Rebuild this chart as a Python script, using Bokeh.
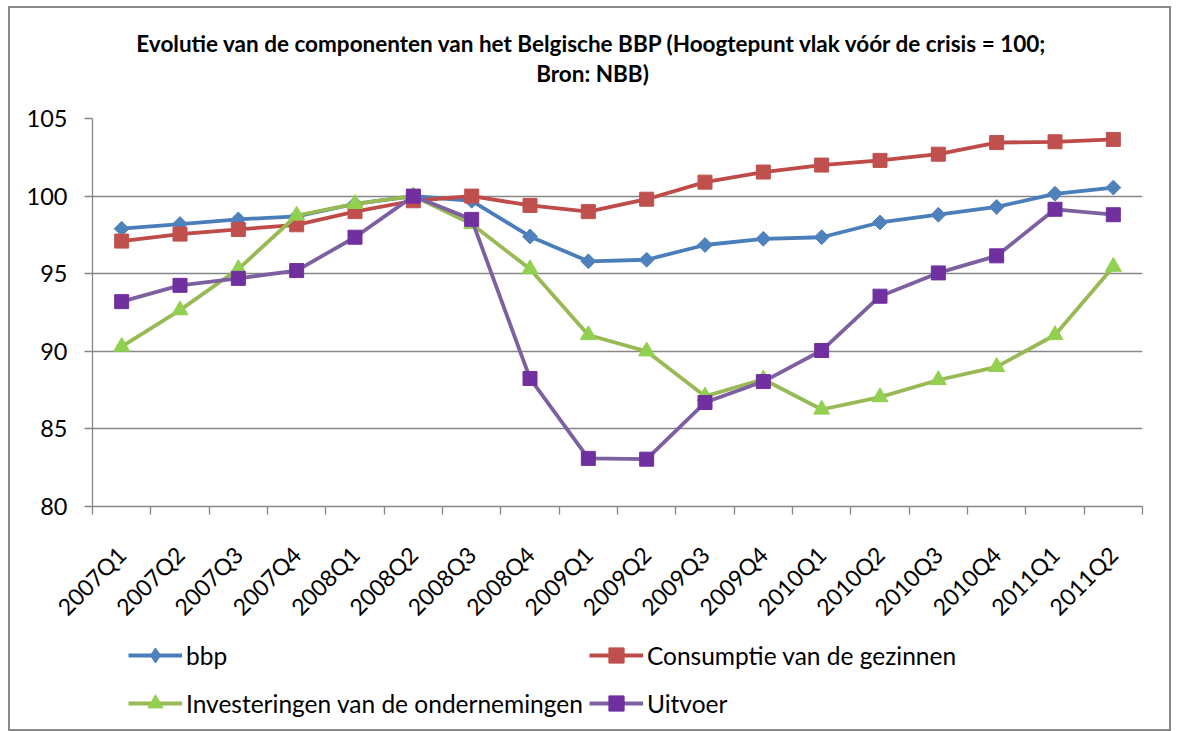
import math
from bokeh.plotting import figure
from bokeh.layouts import column
from bokeh.models import Range1d, FixedTicker, Legend, LegendItem, Label
from bokeh.embed import file_html
from bokeh.resources import INLINE

quarters = ["2007Q1", "2007Q2", "2007Q3", "2007Q4", "2008Q1", "2008Q2", "2008Q3", "2008Q4",
            "2009Q1", "2009Q2", "2009Q3", "2009Q4", "2010Q1", "2010Q2", "2010Q3", "2010Q4",
            "2011Q1", "2011Q2"]
bbp = [97.9, 98.2, 98.5, 98.7, 99.5, 100.0, 99.7, 97.4, 95.8, 95.9, 96.85, 97.25,
       97.35, 98.3, 98.8, 99.3, 100.15, 100.55]
consumptie = [97.1, 97.55, 97.85, 98.15, 99.0, 99.7, 100.0, 99.4, 99.0, 99.8, 100.9, 101.55,
              102.0, 102.3, 102.7, 103.45, 103.5, 103.65]
investeringen = [90.3, 92.65, 95.3, 98.75, 99.5, 100.0, 98.2, 95.3, 91.05, 90.0, 87.1, 88.2,
                 86.25, 87.05, 88.15, 89.0, 91.05, 95.45]
uitvoer = [93.2, 94.25, 94.7, 95.2, 97.35, 100.0, 98.5, 88.25, 83.1, 83.05, 86.7, 88.05,
           90.05, 93.55, 95.05, 96.15, 99.15, 98.8]
y_ticks = [80, 85, 90, 95, 100, 105]
title_line1 = "Evolutie van de componenten van het Belgische BBP (Hoogtepunt vlak vóór de crisis = 100;"
title_line2 = "Bron: NBB)"

FONT = "Lato"
GRAY = "#868686"
W = 1159

x = list(range(len(quarters)))
x_range = Range1d(-0.5, len(quarters) - 0.5)

# name, values, line colour, marker colour, chart marker, size, angle, legend marker
series = [
    ("bbp", bbp, "#4A7EBB", "#4F81BD", "square", 10.5, math.pi / 4, "diamond"),
    ("Consumptie van de gezinnen", consumptie, "#BE4B48", "#C0504D", "square", 14, 0, "square"),
    ("Investeringen van de ondernemingen", investeringen, "#98B954", "#92D050", "triangle", 16, 0, "triangle"),
    ("Uitvoer", uitvoer, "#7D60A0", "#7030A0", "square", 14, 0, "square"),
]

# ---- title strip ----
pt = figure(width=W, height=95, output_backend="svg", toolbar_location=None,
            x_axis_type=None, y_axis_type=None, x_range=Range1d(0, 1), y_range=Range1d(0, 1),
            min_border_left=0, min_border_right=0, min_border_top=0, min_border_bottom=0)
pt.outline_line_color = None
pt.xgrid.visible = False
pt.ygrid.visible = False
for txt, yy in [(title_line1, 60), (title_line2, 30)]:
    pt.add_layout(Label(x=500, y=yy, x_units="screen", y_units="screen", text=txt,
                        text_align="center", text_baseline="middle", text_font=FONT,
                        text_font_style="bold", text_font_size="22.5px", text_color="black"))

# ---- main chart ----
p = figure(width=W, height=530, output_backend="svg", toolbar_location=None,
           x_range=x_range, y_range=Range1d(80, 105),
           min_border_left=82, min_border_right=27, min_border_top=15, min_border_bottom=127)
p.outline_line_color = None

p.xgrid.visible = False
p.ygrid.grid_line_color = GRAY
p.ygrid.grid_line_width = 1.3
p.ygrid.ticker = FixedTicker(ticks=y_ticks)

p.yaxis.ticker = FixedTicker(ticks=y_ticks)
p.yaxis.axis_line_color = GRAY
p.yaxis.axis_line_width = 1.3
p.yaxis.major_tick_line_color = GRAY
p.yaxis.major_tick_line_width = 1.3
p.yaxis.major_tick_out = 8
p.yaxis.major_tick_in = 0
p.yaxis.minor_tick_line_color = None
p.yaxis.major_label_text_font = FONT
p.yaxis.major_label_text_font_size = "23.5px"
p.yaxis.major_label_text_color = "black"
p.yaxis.major_label_standoff = 17

p.xaxis.ticker = FixedTicker(ticks=x, minor_ticks=[i - 0.5 for i in range(len(quarters) + 1)])
p.xaxis.major_label_overrides = {i: q for i, q in enumerate(quarters)}
p.xaxis.axis_line_color = GRAY
p.xaxis.axis_line_width = 1.3
p.xaxis.major_tick_line_color = None
p.xaxis.major_tick_out = 0
p.xaxis.major_tick_in = 0
p.xaxis.minor_tick_line_color = GRAY
p.xaxis.minor_tick_line_width = 1.3
p.xaxis.minor_tick_out = 8
p.xaxis.minor_tick_in = 0
p.xaxis.major_label_orientation = math.pi / 4
p.xaxis.major_label_text_font = FONT
p.xaxis.major_label_text_font_size = "23px"
p.xaxis.major_label_text_color = "black"
p.xaxis.major_label_standoff = 36

for name, vals, lc, mc, marker, size, ang, lmarker in series:
    p.line(x, vals, line_color=lc, line_width=3.8)
    p.scatter(x, vals, marker=marker, size=size, angle=ang, fill_color=mc, line_color=mc)

# ---- legend strip (same series, drawn outside its visible range; only the legend shows) ----
pl = figure(width=W, height=96, output_backend="svg", toolbar_location=None,
            x_axis_type=None, y_axis_type=None, x_range=Range1d(-0.5, len(quarters) - 0.5),
            y_range=Range1d(0, 1),
            min_border_left=0, min_border_right=0, min_border_top=0, min_border_bottom=0)
pl.outline_line_color = None
pl.xgrid.visible = False
pl.ygrid.visible = False
items = []
for name, vals, lc, mc, marker, size, ang, lmarker in series:
    r1 = pl.line(x, vals, line_color=lc, line_width=3.8)
    r2 = pl.scatter(x, vals, marker=lmarker, size=size, fill_color=mc, line_color=mc)
    items.append(LegendItem(label=name, renderers=[r1, r2]))

legend = Legend(items=items, ncols=2, orientation="horizontal", location=(36, 5),
                label_text_font=FONT, label_text_font_size="24.5px", label_text_color="black",
                glyph_width=54, glyph_height=38, label_height=42, spacing=6,
                label_standoff=4, border_line_alpha=0, background_fill_alpha=0,
                padding=0, margin=0)
pl.add_layout(legend, "center")

page = column(pt, p, pl, spacing=0,
              styles={"border": "2px solid #898989", "margin": "6px 0 0 8px"})
open("out.html", "w").write(file_html(page, INLINE))
